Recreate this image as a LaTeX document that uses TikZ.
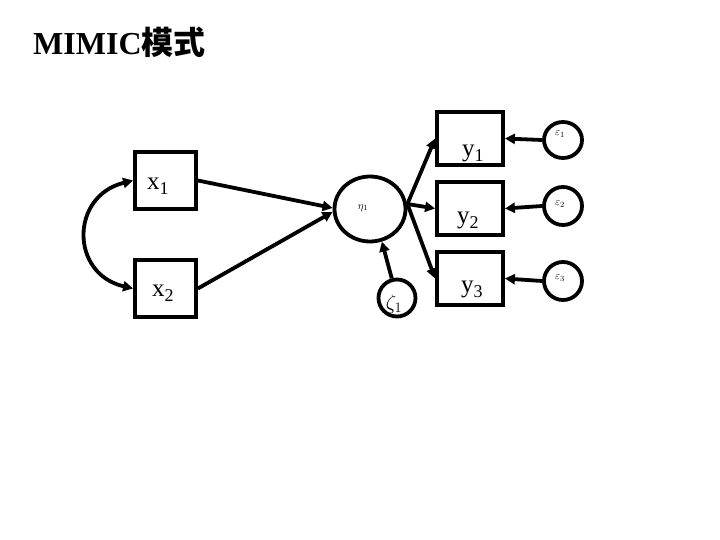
\documentclass[tikz,border=0pt]{standalone}
\usepackage{fontspec}
\setmainfont{Liberation Serif}
\newfontfamily\cjk{Noto Sans CJK SC}
\usetikzlibrary{arrows.meta,shapes.geometric}
\newcommand{\mysub}[1]{\raisebox{-5pt}{\fontsize{18}{20}\selectfont #1}}
\begin{document}
\begin{tikzpicture}[x=1pt,y=-1pt,
  thick line/.style={line width=3.8pt},
  obsbox/.style={draw,thick line,inner sep=0pt,minimum width=#1},
  latent/.style={draw,thick line,ellipse,inner sep=0pt},
  arr/.style={thick line,-{Triangle[length=10pt,width=10pt]}},
  darr/.style={thick line,{Triangle[length=10pt,width=10pt]}-{Triangle[length=10pt,width=10pt]}},
  lab/.style={inner sep=0pt,anchor=base west,font=\fontsize{25}{28}\selectfont},
  small/.style={inner sep=0pt,font=\fontsize{11}{12}\selectfont}]
\useasboundingbox (0,0) rectangle (720,540);
\node[inner sep=0pt,anchor=base west,font=\fontsize{32}{34}\selectfont\bfseries] (title) at (33,55) {MIMIC{\cjk 模式}};
% observed x
\node[obsbox=61pt,minimum height=57pt] (x1) at (165.5,180.5) {};
\node[obsbox=61pt,minimum height=57pt] (x2) at (165.5,288.5) {};
\node[lab] (x1l) at (147,190) {x\mysub{1}};
\node[lab] (x2l) at (152,296) {x\mysub{2}};
% latent eta
\node[latent,minimum width=71pt,minimum height=65pt] (eta) at (370,209) {};
\node[small] (etal) at (363,208) {$\eta_{1}$};
% zeta
\node[latent,minimum width=37pt,minimum height=37pt] (zeta) at (397,298) {};
\node[inner sep=0pt,font=\fontsize{20}{22}\selectfont] (zetal) at (394,304) {$\zeta_{1}$};
% observed y
\node[obsbox=66pt,minimum height=53pt] (y1) at (470,138.5) {};
\node[obsbox=66pt,minimum height=53pt] (y2) at (470,208.5) {};
\node[obsbox=66pt,minimum height=53pt] (y3) at (470,278.5) {};
\node[lab] (y1l) at (462,157) {y\mysub{1}};
\node[lab] (y2l) at (457,224) {y\mysub{2}};
\node[lab] (y3l) at (461,292) {y\mysub{3}};
% errors
\node[latent,minimum width=38pt,minimum height=36pt] (e1) at (563,140) {};
\node[latent,minimum width=38pt,minimum height=38pt] (e2) at (563,206) {};
\node[latent,minimum width=38pt,minimum height=38pt] (e3) at (563,281) {};
\node[small] (e1l) at (560,134) {$\varepsilon_{1}$};
\node[small] (e2l) at (560,204) {$\varepsilon_{2}$};
\node[small] (e3l) at (560,278) {$\varepsilon_{3}$};
% connectors
\draw[darr] (x1.west) .. controls (70,196) and (70,274) .. (x2.west);
\draw[arr] (x1.east) -- ([yshift=1pt]eta.west);
\draw[arr] (x2.east) -- ([yshift=-3pt]eta.west);
\draw[arr] ([yshift=5pt]eta.east) -- (y1.west);
\draw[arr] ([yshift=5pt]eta.east) -- (y2.west);
\draw[arr] ([yshift=5pt]eta.east) -- (y3.west);
\draw[arr] (zeta.105) -- (eta.-70);
\draw[arr] (e1.west) -- (y1.east);
\draw[arr] (e2.west) -- (y2.east);
\draw[arr] (e3.west) -- (y3.east);
\end{tikzpicture}
\end{document}
